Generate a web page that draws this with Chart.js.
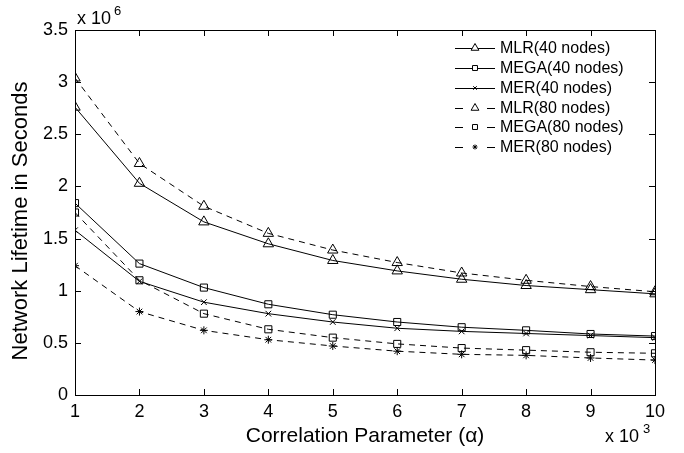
<!DOCTYPE html>
<html>
<head>
<meta charset="utf-8">
<script src="https://cdn.jsdelivr.net/npm/chart.js@4/dist/chart.umd.min.js"></script>
<style>
  html, body { margin: 0; padding: 0; background: #fff; }
  #wrap { width: 684px; height: 453px; }
</style>
</head>
<body>
<div id="wrap"><canvas id="lifetime-chart"></canvas></div>
<script>
// correlation parameter (x 10^3) and lifetime (x 10^6 s)
const alphaValues = [1, 2, 3, 4, 5, 6, 7, 8, 9, 10];
const mlr40  = [2.76, 2.03, 1.66, 1.45, 1.29, 1.19, 1.11, 1.05, 1.01, 0.97];
const mega40 = [1.84, 1.26, 1.03, 0.87, 0.77, 0.70, 0.65, 0.62, 0.585, 0.565];
const mer40  = [1.58, 1.09, 0.89, 0.78, 0.70, 0.64, 0.61, 0.59, 0.57, 0.55];
const mlr80  = [3.04, 2.22, 1.81, 1.55, 1.39, 1.27, 1.17, 1.10, 1.04, 0.99];
const mega80 = [1.75, 1.10, 0.78, 0.63, 0.55, 0.49, 0.45, 0.43, 0.41, 0.40];
const mer80  = [1.24, 0.80, 0.62, 0.53, 0.47, 0.42, 0.39, 0.38, 0.355, 0.335];
const yTicks = [0, 0.5, 1, 1.5, 2, 2.5, 3, 3.5];

const FONT = 'Liberation Sans, Arial, Helvetica, sans-serif';

function series(label, values, marker, radius, dashed) {
    return {
        label,
        data: values.map((v, i) => ({ x: alphaValues[i], y: v })),
        borderColor: '#000',
        borderWidth: 1,
        borderDash: dashed ? [6, 5] : [],
        pointStyle: marker,
        pointRadius: radius,
        pointBorderColor: '#000',
        pointBorderWidth: 1,
        pointBackgroundColor: 'rgba(0,0,0,0)',
        tension: 0,
        fill: false,
    };
}

const datasets = [
    series('MLR(40 nodes)', mlr40, 'triangle', 6, false),
    series('MEGA(40 nodes)', mega40, 'rect', 5, false),
    series('MER(40 nodes)', mer40, 'crossRot', 4, false),
    series('MLR(80 nodes)', mlr80, 'triangle', 6, true),
    series('MEGA(80 nodes)', mega80, 'rect', 5, true),
    series('MER(80 nodes)', mer80, 'star', 4, true),
];

// box, inward ticks, y title, exponent labels and the legend
const framePlugin = {
    id: 'frame',
    afterDraw(chart) {
        const { ctx, chartArea: a, scales } = chart;
        const xs = scales.x, ys = scales.y;
        ctx.save();
        ctx.strokeStyle = '#000';
        ctx.lineWidth = 1;
        ctx.setLineDash([]);
        ctx.strokeRect(Math.round(a.left) + 0.5, Math.round(a.top) + 0.5,
            Math.round(a.right - a.left), Math.round(a.bottom - a.top));
        ctx.beginPath();
        alphaValues.forEach(v => {
            const px = Math.round(xs.getPixelForValue(v)) + 0.5;
            ctx.moveTo(px, a.bottom); ctx.lineTo(px, a.bottom - 6);
            ctx.moveTo(px, a.top); ctx.lineTo(px, a.top + 6);
        });
        yTicks.forEach(v => {
            const py = Math.round(ys.getPixelForValue(v)) + 0.5;
            ctx.moveTo(a.left, py); ctx.lineTo(a.left + 6, py);
            ctx.moveTo(a.right, py); ctx.lineTo(a.right - 6, py);
        });
        ctx.stroke();

        ctx.fillStyle = '#000';

        ctx.save();
        ctx.translate(21, 221);
        ctx.rotate(-Math.PI / 2);
        ctx.textAlign = 'center';
        ctx.textBaseline = 'middle';
        ctx.font = '22px ' + FONT;
        ctx.fillText('Network Lifetime in Seconds', 0, 0);
        ctx.restore();

        ctx.textBaseline = 'alphabetic';
        ctx.textAlign = 'left';
        ctx.font = '18px ' + FONT;
        ctx.fillText('x 10', a.left + 2, a.top - 6);
        ctx.fillText('x 10', a.right - 50, a.bottom + 47);
        ctx.font = '13px ' + FONT;
        ctx.fillText('6', a.left + 39, a.top - 15);
        ctx.fillText('3', a.right - 12, a.bottom + 38);

        // legend
        const lx = 455, rowY = [48, 68, 88, 108, 127, 147];
        ctx.font = '16px ' + FONT;
        ctx.textBaseline = 'middle';
        chart.data.datasets.forEach((ds, i) => {
            const y = rowY[i];
            ctx.beginPath();
            if (ds.borderDash.length) {
                ctx.moveTo(lx, y + 0.5); ctx.lineTo(lx + 8, y + 0.5);
                ctx.moveTo(lx + 32, y + 0.5); ctx.lineTo(lx + 40, y + 0.5);
            } else {
                ctx.moveTo(lx, y + 0.5); ctx.lineTo(lx + 40, y + 0.5);
            }
            ctx.stroke();
            ctx.fillStyle = '#fff';
            Chart.helpers.drawPoint(ctx, {
                pointStyle: ds.pointStyle,
                radius: ds.pointRadius - 1.5,
                borderWidth: 1,
            }, lx + 20, y);
            ctx.fillStyle = '#000';
            ctx.fillText(ds.label, lx + 45, y + 1);
        });
        ctx.restore();
    },
};

const tickLabel = (v) => String(+Number(v).toFixed(1));

new Chart(document.getElementById('lifetime-chart'), {
    type: 'line',
    data: { datasets },
    options: {
        responsive: true,
        maintainAspectRatio: false,
        animation: false,
        layout: { padding: { top: 30, right: 29, left: 0, bottom: 0 } },
        plugins: {
            legend: { display: false },
            tooltip: { enabled: false },
        },
        scales: {
            x: {
                type: 'linear',
                min: 1,
                max: 10,
                afterFit: (s) => { s.height = 58; },
                grid: { display: false, drawTicks: false },
                border: { display: false },
                ticks: {
                    stepSize: 1,
                    color: '#000',
                    padding: 6,
                    font: { family: FONT, size: 18 },
                    callback: tickLabel,
                },
                title: {
                    display: true,
                    text: 'Correlation Parameter (\u03b1)',
                    color: '#000',
                    font: { family: FONT, size: 21 },
                    padding: { top: 2 },
                },
            },
            y: {
                min: 0,
                max: 3.5,
                afterFit: (s) => { s.width = 75; },
                grid: { display: false, drawTicks: false },
                border: { display: false },
                ticks: {
                    stepSize: 0.5,
                    color: '#000',
                    padding: 7,
                    font: { family: FONT, size: 18 },
                    callback: tickLabel,
                },
            },
        },
    },
    plugins: [framePlugin],
});
</script>
</body>
</html>
